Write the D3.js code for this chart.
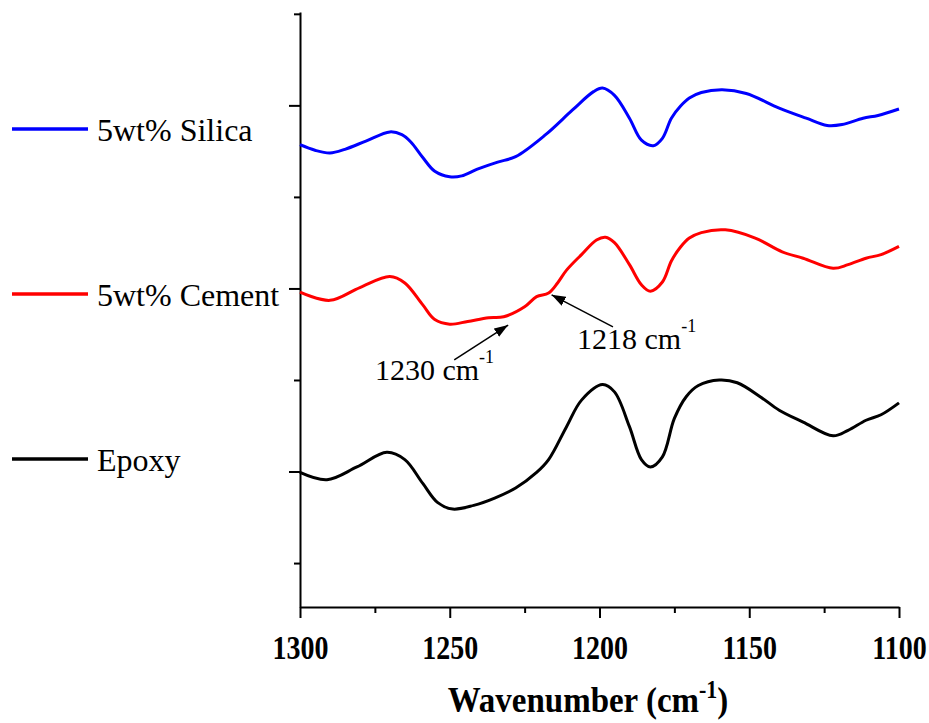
<!DOCTYPE html>
<html>
<head>
<meta charset="utf-8">
<script src="https://cdn.jsdelivr.net/npm/d3@7"></script>
<style>
  html, body { margin: 0; padding: 0; background: #fff; }
  svg { display: block; font-family: "Liberation Serif", "Times New Roman", serif; }
</style>
</head>
<body>
<div id="chart"></div>
<script>
// tick values (wavenumber axis runs high -> low)
const xTicks = [1300, 1250, 1200, 1150, 1100]
const xMinorTicks = [1275, 1225, 1175, 1125]
const yMajorTicks = [1, 3, 5]
const yMinorTicks = [0, 2, 4, 6]

const seriesNames = ['5wt% Silica', '5wt% Cement', 'Epoxy']
const seriesColors = ['#0000ff', '#ff0000', '#000000']

// [wavenumber cm-1, stacked absorbance a.u.]
const silica = [
  [1300, 4.57], [1295, 4.51], [1290, 4.48], [1285, 4.52], [1278, 4.61], [1270, 4.71],
  [1266, 4.68], [1263, 4.60], [1259, 4.43], [1255, 4.28], [1250, 4.22], [1246, 4.23],
  [1241, 4.30], [1234, 4.38], [1228, 4.44], [1218, 4.68], [1209, 4.95], [1202, 5.15],
  [1199, 5.19], [1195, 5.11], [1190, 4.86], [1186, 4.62], [1182, 4.56], [1179, 4.64],
  [1176, 4.86], [1173, 4.99], [1170, 5.08], [1166, 5.14], [1159, 5.17], [1151, 5.13],
  [1140, 4.97], [1131, 4.86], [1124, 4.78], [1119, 4.79], [1112, 4.86], [1107, 4.89],
  [1100, 4.96]
]

const cement = [
  [1300, 2.96], [1290, 2.87], [1280, 3.01], [1270, 3.13], [1265, 3.06], [1259, 2.82],
  [1255, 2.66], [1250, 2.61], [1244, 2.64], [1237, 2.68], [1232, 2.69], [1225, 2.80],
  [1221, 2.91], [1217, 2.95], [1214, 3.06], [1211, 3.20], [1206, 3.37], [1201, 3.53],
  [1198, 3.56], [1195, 3.50], [1190, 3.26], [1186, 3.04], [1183, 2.97], [1179, 3.07],
  [1176, 3.30], [1173, 3.45], [1170, 3.55], [1166, 3.61], [1158, 3.64], [1148, 3.55],
  [1139, 3.40], [1132, 3.33], [1122, 3.22], [1117, 3.26], [1111, 3.33], [1106, 3.37],
  [1100, 3.46]
]

const epoxy = [
  [1300, 0.99], [1291, 0.91], [1281, 1.05], [1271, 1.21], [1265, 1.13], [1259, 0.87],
  [1254, 0.66], [1249, 0.59], [1242, 0.63], [1235, 0.71], [1228, 0.82], [1221, 0.99],
  [1217, 1.13], [1211, 1.49], [1206, 1.78], [1199, 1.95], [1195, 1.87], [1190, 1.49],
  [1186, 1.13], [1183, 1.05], [1179, 1.16], [1175, 1.58], [1171, 1.82], [1167, 1.94],
  [1160, 2.00], [1154, 1.97], [1146, 1.81], [1140, 1.67], [1132, 1.54], [1122, 1.39],
  [1117, 1.45], [1111, 1.56], [1106, 1.62], [1100, 1.75]
]

const seriesData = [silica, cement, epoxy]

// peak labels: arrow tip, arrow tail and text anchor in data units
const annotations = [
  { label: '1230 cm', tip: [1230.5, 2.60], tail: [1248.5, 2.22], text: [1275, 2.0] },
  { label: '1218 cm', tip: [1216, 2.93], tail: [1195.5, 2.58], text: [1207.5, 2.34] }
]

const W = 929
const H = 723
const plot = { left: 300, right: 899, top: 12, bottom: 607 }

const svg = d3.select('#chart').append('svg')
  .attr('width', W)
  .attr('height', H)

const x = d3.scaleLinear().domain([1300, 1100]).range([plot.left, plot.right])
const y = d3.scaleLinear().domain([-0.48, 6.02]).range([plot.bottom, plot.top])

// arrow head
svg.append('defs').append('marker')
  .attr('id', 'arrow')
  .attr('viewBox', '0 0 14 10')
  .attr('refX', 14)
  .attr('refY', 5)
  .attr('markerUnits', 'userSpaceOnUse')
  .attr('markerWidth', 14)
  .attr('markerHeight', 10)
  .attr('orient', 'auto')
  .append('path')
  .attr('d', 'M0,0 L14,5 L0,10 Z')
  .attr('fill', '#000')

// y axis: no labels, long major ticks and short minor ticks
svg.append('g')
  .attr('transform', `translate(${plot.left},0)`)
  .call(d3.axisLeft(y).tickValues(yMajorTicks).tickSize(11).tickFormat(''))
  .call((g) => g.select('.domain').remove())
  .call((g) => g.selectAll('line').attr('stroke', '#000').attr('stroke-width', 2))

svg.append('g')
  .attr('transform', `translate(${plot.left},0)`)
  .call(d3.axisLeft(y).tickValues(yMinorTicks).tickSize(6).tickSizeOuter(0).tickFormat(''))
  .call((g) => g.select('.domain').attr('stroke', '#000').attr('stroke-width', 2))
  .call((g) => g.selectAll('line').attr('stroke', '#000').attr('stroke-width', 2))

// x axis
svg.append('g')
  .attr('transform', `translate(0,${plot.bottom})`)
  .call(d3.axisBottom(x).tickValues(xMinorTicks).tickSize(6).tickFormat(''))
  .call((g) => g.select('.domain').remove())
  .call((g) => g.selectAll('line').attr('stroke', '#000').attr('stroke-width', 2))

svg.append('g')
  .attr('transform', `translate(0,${plot.bottom})`)
  .call(d3.axisBottom(x).tickValues(xTicks).tickSize(11).tickSizeOuter(0).tickFormat(d3.format('d')))
  .call((g) => g.select('.domain').attr('stroke', '#000').attr('stroke-width', 2))
  .call((g) => g.selectAll('line').attr('stroke', '#000').attr('stroke-width', 2))
  .call((g) => g.selectAll('text')
    .attr('y', 0)
    .attr('dy', null)
    .attr('transform', 'translate(0,52) scale(1,1.2)')
    .attr('fill', '#000')
    .style('font-family', '"Liberation Serif", "Times New Roman", serif')
    .style('font-size', '28px')
    .style('font-weight', 'bold'))

// the original's bold axis text is drawn a little taller than wide
const title = svg.append('text')
  .attr('transform', 'translate(588,712) scale(1,1.1)')
  .attr('text-anchor', 'middle')
  .style('font-size', '33px')
  .style('font-weight', 'bold')
title.append('tspan').text('Wavenumber (cm')
title.append('tspan').attr('dy', -13).style('font-size', '22px').text('-1')
title.append('tspan').attr('dy', 13).text(')')

// spectra
const line = d3.line()
  .x((d) => x(d[0]))
  .y((d) => y(d[1]))
  .curve(d3.curveCatmullRom.alpha(0.5))

svg.append('g')
  .selectAll('path')
  .data(seriesData)
  .join('path')
  .attr('d', line)
  .attr('fill', 'none')
  .attr('stroke', (_d, i) => seriesColors[i])
  .attr('stroke-width', 3)
  .attr('stroke-linejoin', 'round')

// legend on the left of the axis
const legend = svg.append('g')
seriesNames.forEach((name, i) => {
  const ly = 129 + i * 165
  legend.append('line')
    .attr('x1', 12).attr('x2', 88)
    .attr('y1', ly).attr('y2', ly)
    .attr('stroke', seriesColors[i])
    .attr('stroke-width', 3.5)
  legend.append('text')
    .attr('x', 97)
    .attr('y', ly + 12)
    .style('font-size', '32px')
    .text(name)
})

// annotations
const notes = svg.append('g')
annotations.forEach((a) => {
  notes.append('line')
    .attr('x1', x(a.tail[0])).attr('y1', y(a.tail[1]))
    .attr('x2', x(a.tip[0])).attr('y2', y(a.tip[1]))
    .attr('stroke', '#000')
    .attr('stroke-width', 1.5)
    .attr('marker-end', 'url(#arrow)')
  const t = notes.append('text')
    .attr('x', x(a.text[0]))
    .attr('y', y(a.text[1]))
    .style('font-size', '30px')
  t.append('tspan').text(a.label)
  t.append('tspan').attr('dy', -17).style('font-size', '18px').text('-1')
})
</script>
</body>
</html>
